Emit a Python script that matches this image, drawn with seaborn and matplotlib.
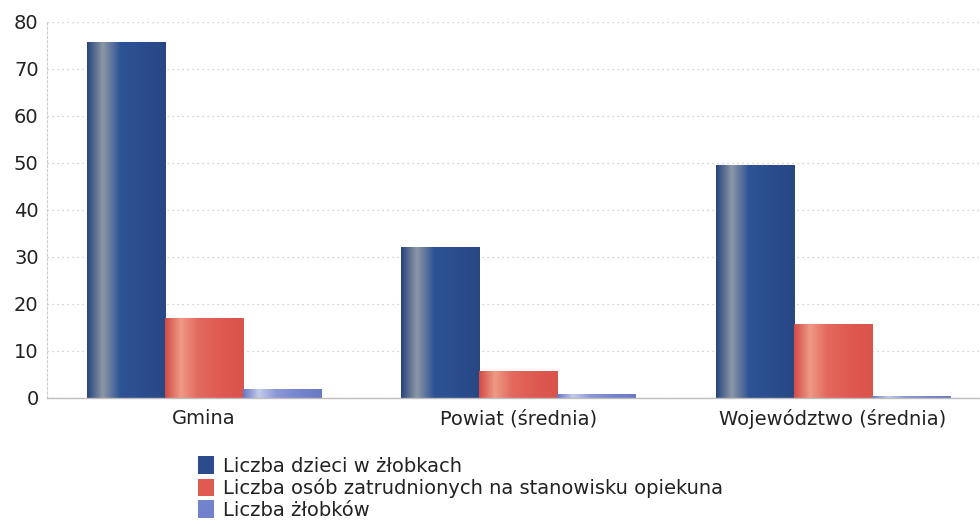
import numpy as np
import pandas as pd
import matplotlib
matplotlib.use("Agg")
import matplotlib.pyplot as plt
from matplotlib.colors import LinearSegmentedColormap
from matplotlib.patches import Patch
import seaborn as sns

# Data
categories = ["Gmina", "Powiat (średnia)", "Województwo (średnia)"]
series = ["Liczba dzieci w żłobkach",
          "Liczba osób zatrudnionych na stanowisku opiekuna",
          "Liczba żłobków"]
dzieci = [75.6, 32.0, 49.6]
opiekunowie = [17.0, 5.8, 15.7]
zlobki = [2.0, 0.85, 0.5]

df = pd.DataFrame({
    "kategoria": categories * 3,
    "seria": [series[0]] * 3 + [series[1]] * 3 + [series[2]] * 3,
    "wartosc": dzieci + opiekunowie + zlobki,
})

base_colors = ["#2b4c8c", "#e05a52", "#7282cc"]
# horizontal shading for each series (cylinder-like bars)
shades = [
    ["#26447c", "#8e97a6", "#2d5396", "#2a4c8c", "#284884"],
    ["#d24a44", "#ee9a86", "#e3695d", "#de5850", "#da544c"],
    ["#6676c2", "#c4cbea", "#8c98d8", "#7282cc", "#6a7ac4"],
]

sns.set_theme(style="white")
plt.rcParams["font.family"] = ["DejaVu Sans"]

fig = plt.figure(figsize=(9.8, 5.24), dpi=100)
ax = fig.add_axes([0.048, 0.2405, 0.962, 0.718])

sns.barplot(data=df, x="kategoria", y="wartosc", hue="seria",
            hue_order=series, order=categories, palette=base_colors,
            width=0.745, gap=0, saturation=1, legend=False, ax=ax)

grad = np.linspace(0, 1, 256).reshape(1, -1)
for i, container in enumerate(ax.containers):
    cmap = LinearSegmentedColormap.from_list(
        "s%d" % i, list(zip([0, 0.2, 0.42, 0.75, 1.0], shades[i])))
    for bar in container:
        x0, y0 = bar.get_x(), bar.get_y()
        w, h = bar.get_width(), bar.get_height()
        bar.set_edgecolor("none")
        im = ax.imshow(grad, cmap=cmap, aspect="auto",
                       extent=(x0, x0 + w, y0, y0 + h), zorder=bar.get_zorder() + 0.1)
        im.set_clip_path(bar)

ax.set_xlim(-0.5, 2.5)
ax.set_ylim(0, 80)
ax.set_yticks(range(0, 81, 10))
ax.set_xlabel("")
ax.set_ylabel("")
ax.grid(axis="y", color="#c4c4c4", linestyle=(0, (1, 3)), linewidth=0.9)
ax.set_axisbelow(True)
for s in ["top", "right"]:
    ax.spines[s].set_visible(False)
ax.spines["left"].set_color("#cccccc")
ax.spines["left"].set_linestyle((0, (2, 2)))
ax.spines["left"].set_linewidth(0.8)
ax.spines["bottom"].set_color("#bdbdbd")
ax.spines["bottom"].set_linewidth(1.0)
ax.tick_params(axis="y", length=0, pad=6, labelsize=14, labelcolor="#222222")
ax.tick_params(axis="x", length=0, pad=8, labelsize=14, labelcolor="#222222")

handles = [Patch(facecolor=c, edgecolor="none") for c in base_colors]
fig.legend(handles, series, loc="upper left", bbox_to_anchor=(0.194, 0.144),
           frameon=False, fontsize=14, handlelength=0.85, handleheight=1.0,
           handletextpad=0.45, labelspacing=0.12, borderaxespad=0,
           labelcolor="#222222")

fig.savefig("out.png", dpi=100)
